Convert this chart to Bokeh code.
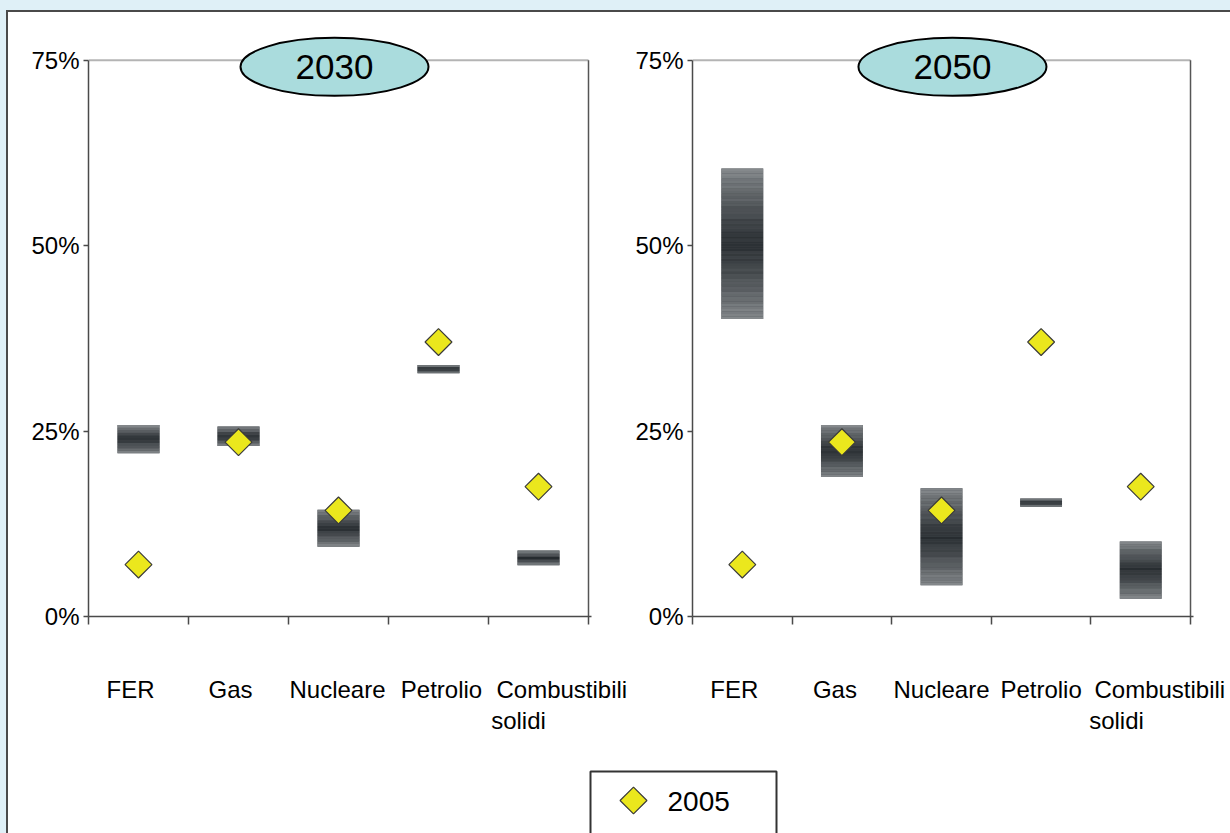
import math
import numpy as np
from bokeh.plotting import figure
from bokeh.models import (Range1d, LinearAxis, FixedTicker, NumeralTickFormatter,
                          ColumnDataSource)
from bokeh.layouts import column, row
from bokeh.embed import file_html
from bokeh.resources import INLINE
from bokeh.core.properties import value

# Primary energy mix: 2005 shares and scenario ranges for 2030 / 2050
categories = ["FER", "Gas", "Nucleare", "Petrolio", "Combustibili solidi"]
share_2005 = [0.070, 0.235, 0.143, 0.370, 0.175]
low_2030 = [0.220, 0.230, 0.094, 0.328, 0.069]
high_2030 = [0.258, 0.256, 0.144, 0.339, 0.089]
low_2050 = [0.401, 0.188, 0.042, 0.148, 0.024]
high_2050 = [0.604, 0.258, 0.173, 0.159, 0.101]
panel_years = ["2030", "2050"]
legend_label = "2005"
y_ticks = [0, 0.25, 0.5, 0.75]

FONT = "Liberation Sans"
DARK = np.array([44, 49, 53])
LIGHT = np.array([134, 138, 141])
MARKER = dict(marker="square", angle=math.pi / 4, size=19,
              fill_color="#ebe71d", line_color="#3a3a3a", line_width=1.2)


def axis_label(name):
    """Wrap the long category name over two lines, second line set to the left."""
    if " " in name and len(name) > 12:
        first, second = name.split(" ", 1)
        return first + "\n" + second + "\u00a0" * 13
    return name


def band_source(lows, highs, half_width=0.21):
    """Split each range bar into thin slices shaded dark in the middle."""
    data = dict(left=[], right=[], bottom=[], top=[], color=[])
    for i, (lo, hi) in enumerate(zip(lows, highs)):
        n = max(4, int((hi - lo) * 742 / 2.5))
        edges = np.linspace(lo, hi, n + 1)
        for k in range(n):
            u = (k + 0.5) / n
            t = abs(2 * u - 1) ** 1.2
            streak = 4 * math.sin(k * 2.7) + 3 * math.sin(k * 5.1)
            c = np.clip(DARK + (LIGHT - DARK) * t + streak, 0, 255).astype(int)
            data["left"].append(i + 0.5 - half_width)
            data["right"].append(i + 0.5 + half_width)
            data["bottom"].append(edges[k])
            data["top"].append(edges[k + 1])
            data["color"].append("#%02x%02x%02x" % tuple(c))
    return ColumnDataSource(data)


def make_panel(year, lows, highs, width, border_left, border_right, title_x, label_pos):
    p = figure(width=width, height=753, x_range=Range1d(0, 5.03), y_range=Range1d(0, 0.79),
               x_axis_type=None, y_axis_type=None, output_backend="svg",
               toolbar_location=None, min_border_left=border_left,
               min_border_right=border_right, min_border_top=18, min_border_bottom=149)
    p.outline_line_color = None
    p.xgrid.visible = False
    p.ygrid.visible = False
    p.background_fill_color = "white"
    p.border_fill_color = "white"

    yax = LinearAxis(ticker=FixedTicker(ticks=y_ticks, minor_ticks=[]),
                     formatter=NumeralTickFormatter(format="0%"), bounds=(0, 0.75),
                     major_tick_out=5, major_tick_in=0, major_label_standoff=4,
                     axis_line_color="#4a4a4a", axis_line_width=1.5,
                     major_tick_line_color="#4a4a4a", major_tick_line_width=1.5,
                     major_label_text_font=FONT, major_label_text_font_size="24px",
                     major_label_text_color="black")
    p.add_layout(yax, "left")

    xax = LinearAxis(ticker=FixedTicker(ticks=label_pos,
                                        minor_ticks=list(range(len(categories) + 1))),
                     major_label_overrides={pos: axis_label(c)
                                            for pos, c in zip(label_pos, categories)},
                     major_tick_line_color=None, major_tick_out=0, major_tick_in=0,
                     minor_tick_out=8, minor_tick_in=0,
                     minor_tick_line_color="#4a4a4a", minor_tick_line_width=1.5,
                     axis_line_color="#4a4a4a", axis_line_width=1.5,
                     major_label_standoff=51, major_label_text_font=FONT,
                     major_label_text_font_size="24px", major_label_text_color="black",
                     major_label_text_line_height=1.15)
    p.add_layout(xax, "below")

    # plot-area frame: light top edge, dark right edge
    p.segment(x0=[0], y0=[0.75], x1=[5], y1=[0.75], line_color="#b4b4b4", line_width=2)
    p.segment(x0=[5], y0=[0], x1=[5], y1=[0.75], line_color="#555555", line_width=1.5)

    centers = [i + 0.5 for i in range(len(categories))]
    p.quad(left=[c - 0.21 for c in centers], right=[c + 0.21 for c in centers],
           bottom=lows, top=highs, fill_color="#4c5054", line_color=None)
    p.quad(left="left", right="right", bottom="bottom", top="top", fill_color="color",
           line_color=None, source=band_source(lows, highs))

    p.scatter(x=centers, y=share_2005, **MARKER)

    p.ellipse(x=[title_x], y=[0.741], width=188, height=58, width_units="screen",
              height_units="screen", fill_color="#aadcdd", line_color="black", line_width=2)
    p.text(x=[title_x], y=[0.741], text=[year], text_align="center", text_baseline="middle",
           text_font=value(FONT), text_font_size="35px", text_color="black")
    return p


p1 = make_panel(panel_years[0], low_2030, high_2030, 624, 80, 41, 2.46,
                [0.42, 1.42, 2.49, 3.53, 4.79])
p2 = make_panel(panel_years[1], low_2050, high_2050, 598, 58, 37, 2.61,
                [0.42, 1.43, 2.50, 3.50, 4.70])

# legend strip below the two panels (pixel-like ranges, y downwards)
p3 = figure(width=1222, height=68, x_range=Range1d(0, 1222), y_range=Range1d(68, 0),
            x_axis_type=None, y_axis_type=None, output_backend="svg",
            toolbar_location=None, min_border=0)
p3.outline_line_color = None
p3.xgrid.visible = False
p3.ygrid.visible = False
p3.border_fill_color = "white"
p3.background_fill_color = "white"
p3.quad(left=[582], right=[768], top=[6], bottom=[100], fill_color="white",
        line_color="#333333", line_width=2)
p3.scatter(x=[625], y=[35], **MARKER)
p3.text(x=[659], y=[36], text=[legend_label], text_align="left", text_baseline="middle",
        text_font=value(FONT), text_font_size="28px", text_color="black")

inner = column(row(p1, p2), p3,
               styles={"border-top": "2px solid #4a4a4a", "border-left": "2px solid #4a4a4a",
                       "background-color": "white"})
page = column(inner, styles={"background-color": "#dff0f7", "padding-top": "10px",
                             "padding-left": "6px"})

open("out.html", "w").write(file_html(page, INLINE))
